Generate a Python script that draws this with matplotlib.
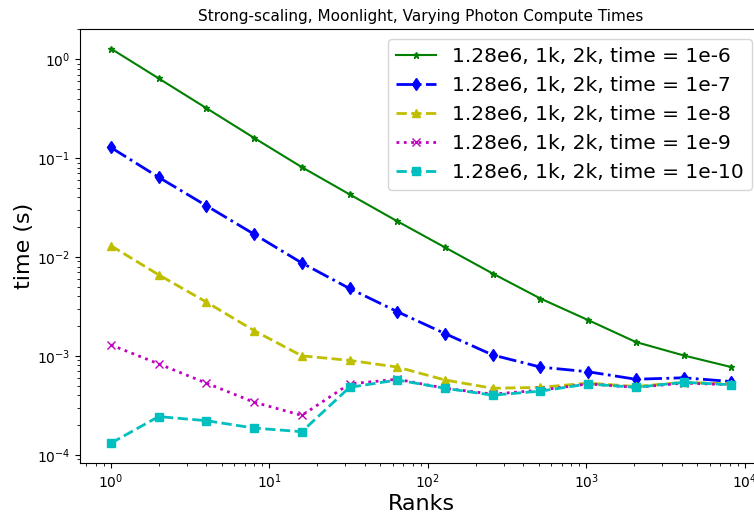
import numpy as np
import matplotlib.pyplot as plt

# ranks used in the strong-scaling run
ranks = [1, 2, 4, 8, 16, 32, 64, 128, 256, 512, 1024, 2048, 4096, 8192]

# measured times (s) per photon compute time
t_1e6 = [1.28, 0.64, 0.32, 0.16, 0.081, 0.043, 0.023, 0.0125, 0.0068, 0.0038,
         0.0023, 0.00138, 0.00101, 0.00077]
t_1e7 = [0.128, 0.064, 0.033, 0.017, 0.0087, 0.0048, 0.0028, 0.00168, 0.00102,
         0.00077, 0.00069, 0.00058, 0.00060, 0.00055]
t_1e8 = [0.013, 0.0066, 0.0035, 0.0018, 0.00100, 0.00090, 0.00077, 0.00057,
         0.00047, 0.00048, 0.00053, 0.00049, 0.00054, 0.00052]
t_1e9 = [0.00129, 0.00083, 0.00053, 0.00034, 0.00025, 0.00052, 0.00058, 0.00047,
         0.00041, 0.00045, 0.00052, 0.00048, 0.00053, 0.00051]
t_1e10 = [0.000131, 0.000243, 0.000221, 0.000186, 0.000171, 0.00048, 0.00057,
          0.00047, 0.00040, 0.00044, 0.00052, 0.00048, 0.00054, 0.00051]

labels = ['1.28e6, 1k, 2k, time = 1e-6',
          '1.28e6, 1k, 2k, time = 1e-7',
          '1.28e6, 1k, 2k, time = 1e-8',
          '1.28e6, 1k, 2k, time = 1e-9',
          '1.28e6, 1k, 2k, time = 1e-10']

fig = plt.figure(figsize=(7.54, 5.16), dpi=100)
ax = fig.add_axes([0.106, 0.103, 0.905, 0.841])

ax.loglog(ranks, t_1e6, 'g*-', markersize=5, label=labels[0])
ax.loglog(ranks, t_1e7, 'bd-.', linewidth=2, markersize=6, label=labels[1])
ax.loglog(ranks, t_1e8, 'y^--', linewidth=2, markersize=6, label=labels[2])
ax.loglog(ranks, t_1e9, 'mx:', linewidth=2, markersize=6, label=labels[3])
ax.loglog(ranks, t_1e10, 'cs--', linewidth=2, markersize=6, label=labels[4])

ax.set_title('Strong-scaling, Moonlight, Varying Photon Compute Times', fontsize=11)
ax.set_xlabel('Ranks', fontsize=16, labelpad=2)
ax.set_ylabel('time (s)', fontsize=16, labelpad=2)
ax.legend(fontsize=14.5, loc='upper right')

fig.savefig('out.png', dpi=100)
